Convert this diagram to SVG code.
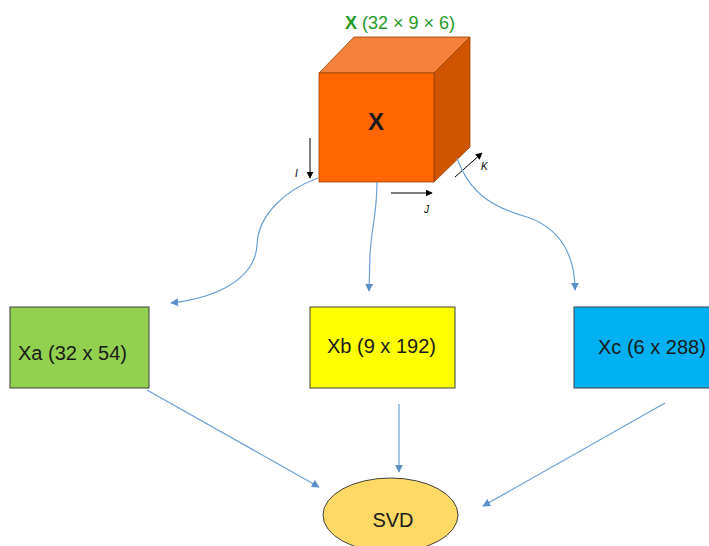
<svg xmlns="http://www.w3.org/2000/svg" width="709" height="546" viewBox="0 0 709 546">
<defs>
<marker id="ah" viewBox="0 0 10 10" refX="9" refY="5" markerWidth="8" markerHeight="8" markerUnits="userSpaceOnUse" orient="auto">
<path d="M0,0 L10,5 L0,10 z" fill="#5b8fc9"/>
</marker>
<marker id="bk" viewBox="0 0 10 10" refX="9" refY="5" markerWidth="7" markerHeight="7" markerUnits="userSpaceOnUse" orient="auto">
<path d="M0,0 L10,5 L0,10 z" fill="#000"/>
</marker>
</defs>
<style>
.lbl{font-family:"Liberation Sans",Arial,sans-serif;font-size:20px;fill:#1a1a1a}
.box{stroke:#404040;stroke-width:1}
.conn{fill:none;stroke:#6a9fd4;stroke-width:1.2;marker-end:url(#ah)}
.axis{stroke:#000;stroke-width:1;marker-end:url(#bk)}
.ax{font-family:"Liberation Sans",Arial,sans-serif;font-size:10px;font-style:italic;fill:#000}
</style>
<rect width="709" height="546" fill="#fff"/>
<g id="title">
<text x="400" y="29" text-anchor="middle" font-family="Liberation Sans, Arial, sans-serif" font-size="18" fill="#1f9a1f"><tspan font-weight="bold">X</tspan> (32 × 9 × 6)</text>
</g>
<g id="cube">
<polygon points="319,73 354,37 470,37 434,73" fill="#f4823a" stroke="#9a4000" stroke-width="0.8"/>
<polygon points="434,73 470,37 470,147 434,182" fill="#d05500" stroke="#9a4000" stroke-width="0.8"/>
<rect x="319" y="73" width="115" height="109" fill="#ff6600" stroke="#9a4000" stroke-width="0.8"/>
<text x="376" y="130" text-anchor="middle" font-family="Liberation Sans, Arial, sans-serif" font-size="24" font-weight="bold" fill="#1a1a1a">X</text>
<line class="axis" x1="310" y1="138" x2="310" y2="178"/>
<text class="ax" x="295" y="177">I</text>
<line class="axis" x1="391" y1="193" x2="432" y2="193"/>
<text class="ax" x="424" y="213">J</text>
<line class="axis" x1="455" y1="177" x2="482" y2="153"/>
<text class="ax" x="481" y="170">K</text>
</g>
<g id="connectors">
<path class="conn" d="M318,178 C285,190 258,215 257,245 C255,280 215,298 171,303"/>
<path class="conn" d="M377,182 C377,215 371,230 370,255 L369,291"/>
<path class="conn" d="M457,158 C470,195 495,208 527,217 C560,228 575,255 575,290"/>
<path class="conn" d="M147,390 L319,487"/>
<path class="conn" d="M399,404 L399,472"/>
<path class="conn" d="M665,403 L483,506"/>
</g>
<g id="xa">
<rect class="box" x="10" y="307" width="139" height="81" fill="#92d050"/>
<text class="lbl" x="18" y="360">Xa (32 x 54)</text>
</g>
<g id="xb">
<rect class="box" x="310" y="307" width="145" height="81" fill="#ffff00"/>
<text class="lbl" x="327" y="353">Xb (9 x 192)</text>
</g>
<g id="xc">
<rect class="box" x="574" y="307" width="145" height="81" fill="#00b0f0"/>
<text class="lbl" x="598" y="354">Xc (6 x 288)</text>
</g>
<g id="svd">
<ellipse cx="390.5" cy="515" rx="67.5" ry="37" fill="#ffd966" stroke="#404040" stroke-width="1"/>
<text class="lbl" x="393" y="527" text-anchor="middle">SVD</text>
</g>
</svg>
